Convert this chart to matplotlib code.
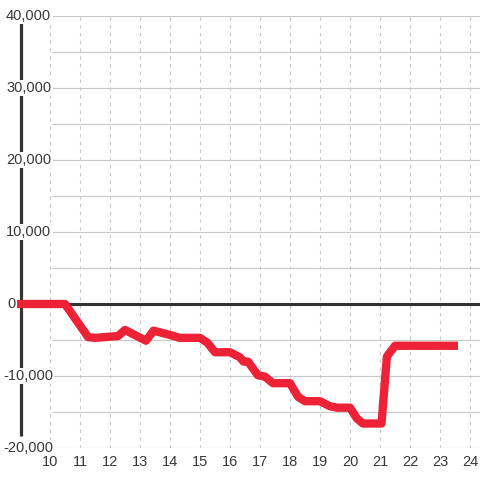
import numpy as np
import matplotlib.pyplot as plt

plt.rcParams['font.family'] = ['Liberation Sans', 'DejaVu Sans']

# values
hours = [8.9, 10.5, 11.27, 11.5, 12.27, 12.5, 13.2, 13.45, 14.0, 14.33, 15.0, 15.25,
         15.5, 16.0, 16.33, 16.45, 16.6, 16.93, 17.17, 17.43, 18.0, 18.27, 18.5, 19.0,
         19.33, 19.57, 20.0, 20.23, 20.43, 21.05, 21.23, 21.5, 23.6]
balance = [0, 0, -4600, -4700, -4450, -3600, -5100, -3700, -4300, -4700, -4700, -5400,
           -6700, -6700, -7400, -8000, -8000, -9900, -10100, -11000, -11000, -12900, -13500, -13500,
           -14200, -14400, -14400, -15900, -16600, -16600, -7300, -5800, -5800]
xticks = list(range(10, 25))
yticks = [-20000, -10000, 0, 10000, 20000, 30000, 40000]
ygrid = list(range(-20000, 40001, 5000))

fig = plt.figure(figsize=(4.8, 4.8), dpi=100)
ax = fig.add_axes([0, 32 / 480, 1, 432 / 480])
xmin, xmax = 10 - 50 / 30, 10 + 430 / 30
ax.set_xlim(xmin, xmax)
ax.set_ylim(-20000, 40000)
for s in ax.spines.values():
    s.set_visible(False)

def px(p):
    # horizontal pixel -> data x
    return xmin + p / 30

ax.hlines(ygrid, px(52), xmax, color='#c8c8c8', lw=0.8, zorder=1)
ax.vlines(xticks, -20000, 40000, color='#c8c8c8', lw=0.8, linestyles=(0, (3, 4)), zorder=1)
ax.hlines(0, px(18), xmax, color='#333333', lw=2.2, zorder=2)

ax.plot([px(21), px(21)], [39000, -18400], color='#333333', lw=2.3, zorder=2,
        solid_capstyle='butt')

for v in yticks:
    if v < 0:
        x0 = px(3)
    elif v == 0:
        x0 = px(7.5)
    else:
        x0 = px(6)
    ax.text(x0, v, f'{v:,}', ha='left', va='center', fontsize=10.5,
            color='#383838', zorder=5,
            bbox=dict(facecolor='white', edgecolor='none', pad=1.0))

ax.plot(hours, balance, color='#ee2237', lw=6, zorder=4,
        solid_capstyle='butt', solid_joinstyle='round')

ax.set_yticks([])
ax.set_xticks(xticks)
ax.set_xticklabels([str(t) for t in xticks])
ax.tick_params(axis='x', length=0, pad=5, labelsize=10.5, labelcolor='#383838')

fig.savefig('out.png', dpi=100)
